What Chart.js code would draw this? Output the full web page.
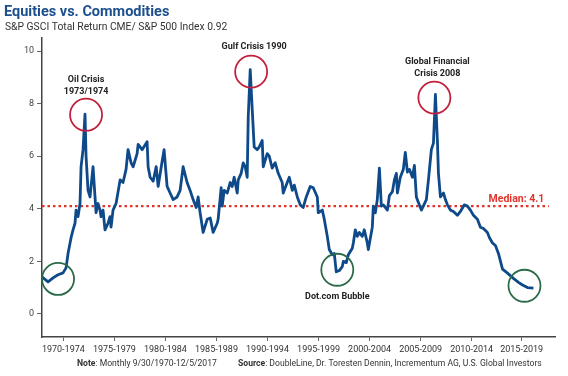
<!DOCTYPE html>
<html>
<head>
<meta charset="utf-8">
<script src="https://cdn.jsdelivr.net/npm/chart.js@4.4.1/dist/chart.umd.min.js"></script>
<style>
  body { margin: 0; background: #fff; }
  #wrap { width: 568px; height: 376px; }
</style>
</head>
<body>
<div id="wrap"><canvas id="ratioChart" width="568" height="376"></canvas></div>
<script>
// years (decimal) and GSCI TR / S&P 500 ratio
var years = [
  1970.75, 1971.33, 1971.81, 1972.29, 1972.77, 1973.06, 1973.25, 1973.54, 1973.73, 1973.92,
  1974.02, 1974.21, 1974.40, 1974.50, 1974.69, 1974.88, 1974.98, 1975.17, 1975.36, 1975.46,
  1975.65, 1975.84, 1975.94, 1976.13, 1976.32, 1976.42, 1976.61, 1976.80, 1977.09, 1977.28,
  1977.38, 1977.57, 1977.86, 1978.25, 1978.53, 1978.82, 1979.01, 1979.30, 1979.50, 1979.88,
  1979.98, 1980.36, 1980.84, 1980.94, 1981.13, 1981.42, 1981.71, 1981.90, 1982.28, 1982.47,
  1982.76, 1983.05, 1983.34, 1983.72, 1984.01, 1984.30, 1984.68, 1984.97, 1985.26, 1985.55,
  1985.74, 1985.93, 1986.22, 1986.61, 1986.90, 1987.18, 1987.57, 1987.66, 1987.95, 1988.05,
  1988.24, 1988.53, 1988.82, 1989.01, 1989.20, 1989.49, 1989.59, 1989.87, 1990.07, 1990.26,
  1990.45, 1990.55, 1990.74, 1990.93, 1991.12, 1991.41, 1991.60, 1991.89, 1991.99, 1992.37,
  1992.57, 1992.85, 1993.14, 1993.43, 1993.81, 1993.91, 1994.29, 1994.49, 1994.78, 1994.97,
  1995.26, 1995.54, 1995.83, 1996.12, 1996.50, 1996.79, 1997.18, 1997.27, 1997.66, 1997.85,
  1998.14, 1998.33, 1998.62, 1998.81, 1999.00, 1999.29, 1999.58, 1999.68, 1999.96, 2000.16,
  2000.54, 2000.64, 2000.83, 2001.02, 2001.21, 2001.50, 2001.69, 2001.98, 2002.08, 2002.46,
  2002.56, 2002.75, 2002.94, 2003.14, 2003.33, 2003.52, 2003.91, 2004.10, 2004.39, 2004.58,
  2004.77, 2004.87, 2005.15, 2005.44, 2005.63, 2005.83, 2006.02, 2006.31, 2006.50, 2006.69,
  2006.88, 2007.17, 2007.36, 2007.65, 2007.85, 2008.13, 2008.33, 2008.52, 2008.71, 2008.81,
  2009.00, 2009.29, 2009.48, 2009.67, 2009.96, 2010.25, 2010.63, 2010.92, 2011.30, 2011.59,
  2011.88, 2012.17, 2012.55, 2012.84, 2013.13, 2013.51, 2013.71, 2014.00, 2014.28, 2014.57,
  2014.96, 2015.44, 2016.01, 2016.49, 2016.88, 2017.36, 2017.93
];
var ratio = [
  1.41, 1.22, 1.37, 1.49, 1.56, 1.75, 2.30, 2.90, 3.20, 3.45,
  3.95, 3.70, 4.20, 5.60, 6.25, 7.60, 6.00, 4.70, 4.45, 4.85,
  5.60, 4.45, 3.85, 4.20, 3.95, 3.70, 3.95, 3.20, 3.45, 3.70,
  3.30, 3.95, 4.20, 5.10, 5.00, 5.50, 6.25, 5.75, 5.60, 6.10,
  6.45, 6.25, 6.55, 5.60, 5.20, 5.05, 5.60, 4.85, 5.80, 6.25,
  4.85, 4.60, 4.35, 4.45, 4.70, 5.60, 5.00, 4.70, 4.35, 4.05,
  4.45, 3.85, 3.10, 3.60, 3.65, 3.10, 3.45, 3.60, 4.80, 4.10,
  4.70, 4.60, 5.00, 4.85, 5.20, 4.60, 5.10, 5.35, 5.75, 5.60,
  5.20, 7.50, 9.30, 7.80, 6.35, 6.25, 6.35, 6.60, 5.60, 6.10,
  6.00, 5.55, 5.75, 5.35, 5.00, 4.60, 5.00, 5.20, 4.70, 4.90,
  4.45, 4.15, 4.05, 4.45, 4.85, 4.80, 4.45, 3.85, 3.95, 3.60,
  2.95, 2.45, 2.25, 2.30, 1.60, 1.65, 1.80, 2.00, 1.95, 2.25,
  2.50, 2.70, 3.20, 2.95, 3.10, 2.95, 3.20, 2.70, 2.45, 3.30,
  4.10, 3.85, 4.35, 5.55, 4.10, 4.15, 3.95, 4.50, 4.65, 5.10,
  5.35, 4.60, 5.20, 5.50, 6.15, 5.40, 5.50, 5.20, 5.65, 4.45,
  4.25, 3.95, 4.10, 4.35, 5.10, 6.25, 6.50, 8.35, 6.60, 5.35,
  4.45, 4.60, 4.35, 4.15, 3.95, 3.90, 3.75, 3.90, 4.15, 4.10,
  3.95, 3.75, 3.60, 3.30, 3.25, 3.10, 2.90, 2.70, 2.60, 2.30,
  1.70, 1.55, 1.35, 1.20, 1.10, 1.00, 0.98
];
var tickYears = [1972.8, 1977.7, 1982.6, 1987.5, 1992.4, 1997.3, 2002.2, 2007.1, 2012.0, 2016.8];
var tickLabels = ['1970-1974', '1975-1979', '1980-1984', '1985-1989', '1990-1994',
                  '1995-1999', '2000-2004', '2005-2009', '2010-2014', '2015-2019'];
var yTicks = [0, 2, 4, 6, 8, 10];
var medianValue = 4.1;
var medianSpan = [1970.75, 2019.4];

// circled events: anchor in data units
var events = [
  { x: 1974.98, y: 7.58, color: '#c3203d', text: ['Oil Crisis', '1973/1974'], dx: 0, dy: -35 },
  { x: 1990.83, y: 9.22, color: '#c3203d', text: ['Gulf Crisis 1990'], dx: 3, dy: -25 },
  { x: 2008.42, y: 8.23, color: '#c3203d', text: ['Global Financial', 'Crisis 2008'], dx: 3, dy: -36 },
  { x: 1972.29, y: 1.33, color: '#2c6b49', text: [], dx: 0, dy: 0 },
  { x: 1999.10, y: 1.68, color: '#2c6b49', text: ['Dot.com Bubble'], dx: 0, dy: 27 },
  { x: 2017.07, y: 1.07, color: '#2c6b49', text: [], dx: 0, dy: 0 }
];

var points = years.map(function (y, i) { return { x: y, y: ratio[i] }; });

var overlay = {
  id: 'overlay',
  afterDraw: function (chart) {
    var ctx = chart.ctx;
    var xs = chart.scales.x, ys = chart.scales.y;
    ctx.save();

    // titles
    ctx.textBaseline = 'alphabetic';
    ctx.textAlign = 'left';
    ctx.fillStyle = '#1b4f8e';
    ctx.font = 'bold 14.5px Roboto';
    ctx.fillText('Equities vs. Commodities', 4, 16);
    ctx.fillStyle = '#333';
    ctx.font = '10.3px Roboto';
    ctx.fillText('S&P GSCI Total Return CME/ S&P 500 Index 0.92', 5, 30);

    // circles and labels
    events.forEach(function (e) {
      var cx = xs.getPixelForValue(e.x), cy = ys.getPixelForValue(e.y);
      ctx.beginPath();
      ctx.arc(cx, cy, 16, 0, Math.PI * 2);
      ctx.strokeStyle = e.color;
      ctx.lineWidth = 1.8;
      ctx.stroke();
      ctx.fillStyle = '#222';
      ctx.font = 'bold 9px Roboto';
      ctx.textAlign = 'center';
      ctx.textBaseline = 'middle';
      e.text.forEach(function (t, i) {
        ctx.fillText(t, cx + e.dx, cy + e.dy + i * 12);
      });
    });

    // median label
    ctx.fillStyle = '#e0342c';
    ctx.font = 'bold 10.5px Roboto';
    ctx.textAlign = 'center';
    ctx.textBaseline = 'alphabetic';
    ctx.fillText('Median: 4.1', xs.getPixelForValue(2016.3), ys.getPixelForValue(medianValue) - 4);

    // footnote
    ctx.fillStyle = '#333';
    ctx.textAlign = 'left';
    var y0 = 366;
    function runs(parts, x) {
      parts.forEach(function (p) {
        ctx.font = (p[1] ? 'bold ' : '') + '8.6px Roboto';
        ctx.fillText(p[0], x, y0);
        x += ctx.measureText(p[0]).width;
      });
    }
    runs([['Note', 1], [': Monthly 9/30/1970-12/5/2017', 0]], 77);
    runs([['Source', 1], [': DoubleLine, Dr. Toresten Dennin, Incrementum AG, U.S. Global Investors', 0]], 238);
    ctx.restore();
  }
};

new Chart(document.getElementById('ratioChart'), {
  type: 'line',
  data: {
    datasets: [
      {
        data: points,
        borderColor: '#0e4a8a',
        borderWidth: 2.8,
        pointRadius: 0,
        tension: 0,
        borderJoinStyle: 'round',
        order: 1
      },
      {
        data: medianSpan.map(function (x) { return { x: x, y: medianValue }; }),
        borderColor: '#e0342c',
        borderWidth: 2.4,
        borderDash: [2.5, 3],
        pointRadius: 0,
        order: 2
      }
    ]
  },
  options: {
    responsive: false,
    animation: false,
    layout: { padding: { top: 38, right: 13, bottom: 20, left: 0 } },
    plugins: { legend: { display: false }, tooltip: { enabled: false } },
    scales: {
      x: {
        type: 'linear',
        min: 1970.75,
        max: 2020,
        afterBuildTicks: function (s) { s.ticks = tickYears.map(function (v) { return { value: v }; }); },
        afterFit: function (s) { s.height = 19; },
        grid: { drawOnChartArea: false, drawTicks: true, tickLength: 4, color: '#666' },
        border: { display: true, color: '#444', width: 1.5 },
        ticks: {
          autoSkip: false,
          maxRotation: 0,
          padding: 3,
          color: '#333',
          font: { family: 'Roboto', size: 9 },
          callback: function (v, i) { return tickLabels[i]; }
        }
      },
      y: {
        min: -0.88,
        max: 10.5,
        afterBuildTicks: function (s) { s.ticks = yTicks.map(function (v) { return { value: v }; }); },
        afterFit: function (s) { s.width = 42; },
        grid: { drawOnChartArea: false, drawTicks: true, tickLength: 5, color: '#666' },
        border: { display: true, color: '#444', width: 1.5 },
        ticks: {
          padding: 3,
          color: '#444',
          font: { family: 'Roboto', size: 9 }
        }
      }
    }
  },
  plugins: [overlay]
});
</script>
</body>
</html>
